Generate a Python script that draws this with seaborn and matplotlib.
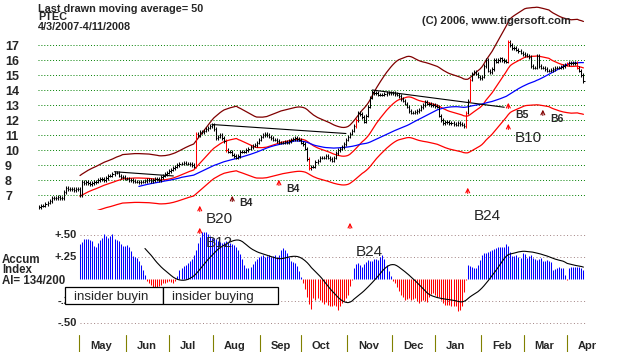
import numpy as np
import pandas as pd
import seaborn as sns
import matplotlib
matplotlib.use("Agg")
import matplotlib.pyplot as plt
import matplotlib.transforms as mtrans
from matplotlib.patches import Rectangle

# ---- data (daily closes, one list per month) ----
close_apr07 = [6.2, 6.3, 6.3, 6.4, 6.5, 6.6, 6.8, 6.8, 6.8, 6.9, 6.8, 6.8, 7.2, 7.45, 7.4, 7.4, 7.4, 7.35, 7.4, 7.4]
close_may = [7.0, 7.9, 7.8, 7.85, 7.8, 7.75, 7.8, 7.85, 7.9, 8.0, 8.05, 8.1, 8.0, 8.15, 8.3, 8.3, 8.4, 8.5, 8.5, 8.3, 8.2, 8.2, 8.1]
close_jun = [8.1, 8.0, 8.0, 7.95, 7.9, 7.9, 7.85, 7.9, 7.9, 7.95, 8.0, 8.0, 7.95, 8.0, 8.05, 8.05, 8.0, 8.2, 8.3, 8.4, 8.5]
close_jul = [8.6, 8.7, 8.8, 8.9, 9.0, 9.1, 9.1, 9.15, 9.1, 9.1, 9.05, 9.0, 8.9, 11.1, 11.0, 11.2, 11.2, 11.3, 11.4, 11.5, 11.6, 11.7]
close_aug = [11.4, 10.8, 10.9, 11.0, 10.8, 10.6, 10.0, 9.9, 9.9, 9.7, 9.6, 9.5, 9.6, 9.9, 9.9, 9.9, 10.0, 10.1, 10.2, 10.3, 10.35, 10.5, 10.7]
close_sep = [10.9, 11.0, 11.1, 11.0, 10.9, 10.8, 10.7, 10.7, 10.6, 10.5, 10.5, 10.5, 10.55, 10.5, 10.6, 10.7, 10.75, 10.8, 10.75, 10.7]
close_oct = [10.5, 10.4, 10.1, 9.4, 8.8, 8.9, 8.9, 9.2, 9.3, 9.5, 9.5, 9.5, 9.6, 9.5, 9.4, 9.3, 9.5, 9.8, 10.0, 10.1, 10.2, 10.4, 10.7]
close_nov = [10.9, 11.1, 11.3, 11.6, 12.0, 12.5, 12.4, 12.2, 11.9, 12.3, 12.9, 13.5, 13.9, 13.8, 13.8, 13.7, 13.7, 13.7, 13.75, 13.8, 13.8, 13.8]
close_dec = [13.8, 13.75, 13.7, 13.6, 13.4, 13.3, 13.1, 12.9, 12.6, 12.5, 12.5, 12.55, 12.6, 12.7, 12.85, 13.0, 13.2, 13.1, 13.05, 13.0, 13.0]
close_jan = [12.95, 12.9, 12.3, 12.0, 11.8, 11.9, 11.85, 11.8, 11.8, 11.75, 11.7, 11.8, 11.75, 11.7, 11.6, 12.5, 13.3, 14.7, 15.1, 15.2, 15.1, 14.9, 14.8]
close_feb = [14.9, 15.6, 16.0, 15.3, 15.2, 15.4, 16.0, 15.9, 16.0, 16.1, 16.0, 15.95, 15.9, 17.2, 17.0, 16.8, 16.8, 16.7, 16.6, 16.5, 16.4]
close_mar = [16.35, 16.3, 16.2, 15.6, 15.5, 15.5, 16.3, 15.6, 15.5, 15.5, 15.4, 15.3, 15.3, 15.35, 15.4, 15.5, 15.5, 15.5, 15.55, 15.6, 15.7]
close_apr08 = [15.75, 15.8, 15.8, 15.8, 15.8, 15.5, 15.3, 15.0, 14.6]

# accumulation index, daily from May 1
ai_may = [.40, .42, .45, .46, .46, .44, .43, .37, .36, .41, .44, .47, .51, .49, .47, .49, .51, .46, .44, .43, .40, .37, .38]
ai_jun = [.39, .36, .32, .26, .25, .24, .20, .16, .10, .05, -.02, -.04, -.07, -.10, -.13, -.11, -.08, -.07, -.05, -.04, -.03]
ai_jul = [-.02, -.03, -.05, -.02, .03, .10, .13, .15, .16, .18, .20, .23, .27, .33, .41, .48, .53, .53, .53, .51, .49, .47]
ai_aug = [.47, .46, .43, .42, .41, .42, .43, .42, .41, .40, .39, .36, .33, .28, .23, .16, .13, .12, .14, .17, .20, .23, .25]
ai_sep = [.26, .27, .25, .26, .27, .25, .26, .27, .25, .27, .33, .35, .33, .29, .25, .21, .19, .18, .15, .09]
ai_oct = [.02, -.05, -.11, -.20, -.28, -.34, -.22, -.24, -.22, -.24, -.26, -.28, -.26, -.29, -.31, -.31, -.30, -.31, -.35, -.31, -.27, -.25, -.22]
ai_nov = [-.18, -.08, -.01, .12, .17, .18, .16, .14, .17, .19, .22, .21, .20, .23, .23, .22, .25, .27, .23, .16, .09, .03]
ai_dec = [-.02, -.05, -.09, -.14, -.18, -.21, -.24, -.23, -.22, -.24, -.23, -.22, -.25, -.27, -.25, -.24, -.25, -.26, -.20, -.17, -.16]
ai_jan = [-.18, -.20, -.20, -.24, -.27, -.29, -.30, -.30, -.31, -.31, -.31, -.36, -.35, -.31, -.15, -.01, .16, .15, .14, .13, .13, .16, .22]
ai_feb = [.27, .29, .30, .31, .32, .33, .34, .35, .36, .36, .36, .36, .40, .38, .31, .26, .26, .27, .25, .24, .29]
ai_mar = [.28, .24, .26, .27, .24, .23, .22, .23, .24, .20, .21, .22, .21, .19, .10, .11, .12, .14, .13, .12, .05]
ai_apr = [-.01, .12, .14, .14, .14, .14, .14, .13, .10]

red_bars = [77, 92, 133, 156, 210, 212, 231, 260, 265]   # day numbers of red bars
trendlines = [((37, 8.55), (66, 8.27)), ((85, 11.7), (151, 11.1)), ((164, 14.0), (229, 12.85))]
# day, arrow head (price units), label, big label?, arrow colour, label drop in px
signals = [
    (79, 6.47, "B20", True, "red", 5),
    (79, 5.0, "B12", True, "red", 7),
    (95, 7.13, "B4", False, "#800000", -1),
    (118, 8.2, "B4", False, "red", 1),
    (153, 5.33, "B24", True, "red", 21),
    (211, 7.67, "B24", True, "red", 20),
    (231, 13.33, "B5", False, "red", 4),
    (231, 11.93, "B10", True, "red", 6),
    (248, 12.87, "B6", False, "#800000", 1),
]
price_ticks = [7, 8, 9, 10, 11, 12, 13, 14, 15, 16, 17]
ai_ticks = [0.5, 0.25, -0.25, -0.5]
ai_tick_labels = ["+.50", "+.25", "-.25", "-.50"]

# ---- build series ----
dates = pd.bdate_range("2007-04-03", "2008-04-11")
close = np.array(close_apr07 + close_may + close_jun + close_jul + close_aug + close_sep + close_oct
                 + close_nov + close_dec + close_jan + close_feb + close_mar + close_apr08)
ai = np.array(ai_may + ai_jun + ai_jul + ai_aug + ai_sep + ai_oct + ai_nov + ai_dec + ai_jan
              + ai_feb + ai_mar + ai_apr)
n = len(close)
assert n == len(dates)
day = np.arange(n)
ai_day = np.arange(n - len(ai), n)

df = pd.DataFrame({"day": day, "close": close})
df["ma21"] = df["close"].rolling(21).mean()
df["ma50"] = df["close"].rolling(50).mean()
df["upper"] = df["ma21"] * 1.2
df["lower"] = df["ma21"] * 0.8
prev = np.r_[close[0], close[:-1]]
hi = np.maximum(close, prev) + 0.12
lo = np.minimum(close, prev) - 0.12

aidf = pd.DataFrame({"day": ai_day, "ai": ai})
aidf["ma"] = aidf["ai"].rolling(21).mean()
ma_part = aidf[aidf["day"] >= 52]

# ---- figure, laid out in pixels ----
W, H = 624, 352
X0, DX = 39.4, 2.03
sns.set_style("white")
plt.rcParams["font.family"] = ["Liberation Sans", "DejaVu Sans"]
fig = plt.figure(figsize=(W / 100, H / 100), dpi=100)
fig.patch.set_facecolor("white")

def fx(px):
    return px / W

def fy(py):
    return 1 - py / H

xlim = (-X0 / DX, (W - X0) / DX)
ax2 = fig.add_axes([0, fy(340), 1, 128 / H])
ax2.set_xlim(xlim)
ax2.set_ylim((279 - 340) / 88, (279 - 212) / 88)
ax2.axis("off")

ax = fig.add_axes([0, fy(210), 1, 210 / H])
ax.set_xlim(xlim)
ax.set_ylim(6, 20)
ax.axis("off")
ax.set_zorder(2)

# price panel
ax.hlines(price_ticks, -0.7, n, colors="#008000", linestyles=(0, (1, 2)), lw=0.7)
sns.lineplot(data=df, x="day", y="upper", ax=ax, color="#800000", lw=0.9, estimator=None)
sns.lineplot(data=df, x="day", y="lower", ax=ax, color="red", lw=0.9, estimator=None)
sns.lineplot(data=df, x="day", y="ma21", ax=ax, color="red", lw=0.9, estimator=None)
sns.lineplot(data=df, x="day", y="ma50", ax=ax, color="blue", lw=0.9, estimator=None)
for (d1, p1), (d2, p2) in trendlines:
    sns.lineplot(x=[d1, d2], y=[p1, p2], ax=ax, color="black", lw=0.8, estimator=None)
bar_col = np.where(np.isin(day, red_bars), "red", "black")
ax.vlines(day, lo, hi, colors=bar_col, lw=0.75, zorder=4)
ax.hlines(close, day, day + 0.7, colors=bar_col, lw=0.75, zorder=4)

for d, head, lab, big, col, drop in signals:
    tail = head - 0.75
    ax.annotate("", xy=(d, head), xytext=(d, tail), annotation_clip=False,
                arrowprops=dict(arrowstyle="->", color=col, lw=0.8, mutation_scale=7))
    ly = tail - drop / 15
    if big:
        ax.text(d + 3, ly, lab, fontsize=11, va="center", ha="left", clip_on=False, zorder=6)
    else:
        ax.text(d + 3.5, ly, lab, fontsize=7.5, fontweight="bold", va="center", ha="left",
                clip_on=False, zorder=6)

for p in price_ticks:
    fig.text(fx(5), fy(45 + (17 - p) * 15 + 2), str(p), fontsize=9, fontweight="bold", va="center")

# accumulation panel
ax2.hlines(ai_ticks, ai_day[0], n, colors="#a08080", linestyles=(0, (1, 2.5)), lw=0.7)
ax2.vlines(aidf["day"], 0, aidf["ai"], colors=np.where(aidf["ai"] >= 0, "blue", "red"), lw=0.75)
sns.lineplot(data=ma_part, x="day", y="ma", ax=ax2, color="black", lw=0.8, estimator=None)
for v, t in zip(ai_ticks, ai_tick_labels):
    fig.text(fx(77), fy(279 - v * 88), t, fontsize=8, fontweight="bold", va="center", ha="right")

fig.text(fx(2), fy(263), "Accum", fontsize=8.3, fontweight="bold", va="baseline")
fig.text(fx(2), fy(273), "Index", fontsize=8.3, fontweight="bold", va="baseline")
fig.text(fx(2), fy(283.5), "AI= 134/200", fontsize=8.3, fontweight="bold", va="baseline")

for x1, x2, txt in [(65, 163, "insider buyin"), (163, 278, "insider buying")]:
    fig.add_artist(Rectangle((fx(x1), fy(304)), fx(x2 - x1), 17 / H, transform=fig.transFigure,
                             facecolor="white", edgecolor="black", lw=0.9, zorder=5))
    fig.text(fx(x1 + 9), fy(300), txt, fontsize=9.5, va="baseline", zorder=6)

# months along the bottom
bt = mtrans.blended_transform_factory(ax2.transData, fig.transFigure)
month_start = day[1:][dates.month[1:] != dates.month[:-1]]
for d in month_start:
    ax2.plot([d - 0.3, d - 0.3], [fy(335), fy(352)], color="#808000", lw=0.8, transform=bt, clip_on=False)
    ax2.text(d + 5, fy(349), dates[d].strftime("%b"), fontsize=8, fontweight="bold",
             va="baseline", ha="left", transform=bt, clip_on=False)

# titles
fig.text(fx(38), fy(11.5), "Last drawn moving average= 50", fontsize=7.8, fontweight="bold", va="baseline")
fig.text(fx(38), fy(20.5), "PTEC", fontsize=7.8, fontweight="bold", va="baseline")
fig.text(fx(38), fy(29.5), "4/3/2007-4/11/2008", fontsize=7.8, fontweight="bold", va="baseline")
fig.text(fx(422), fy(24), "(C) 2006, www.tigersoft.com", fontsize=8, fontweight="bold", va="baseline")

fig.savefig("out.png", dpi=100, facecolor="white")
